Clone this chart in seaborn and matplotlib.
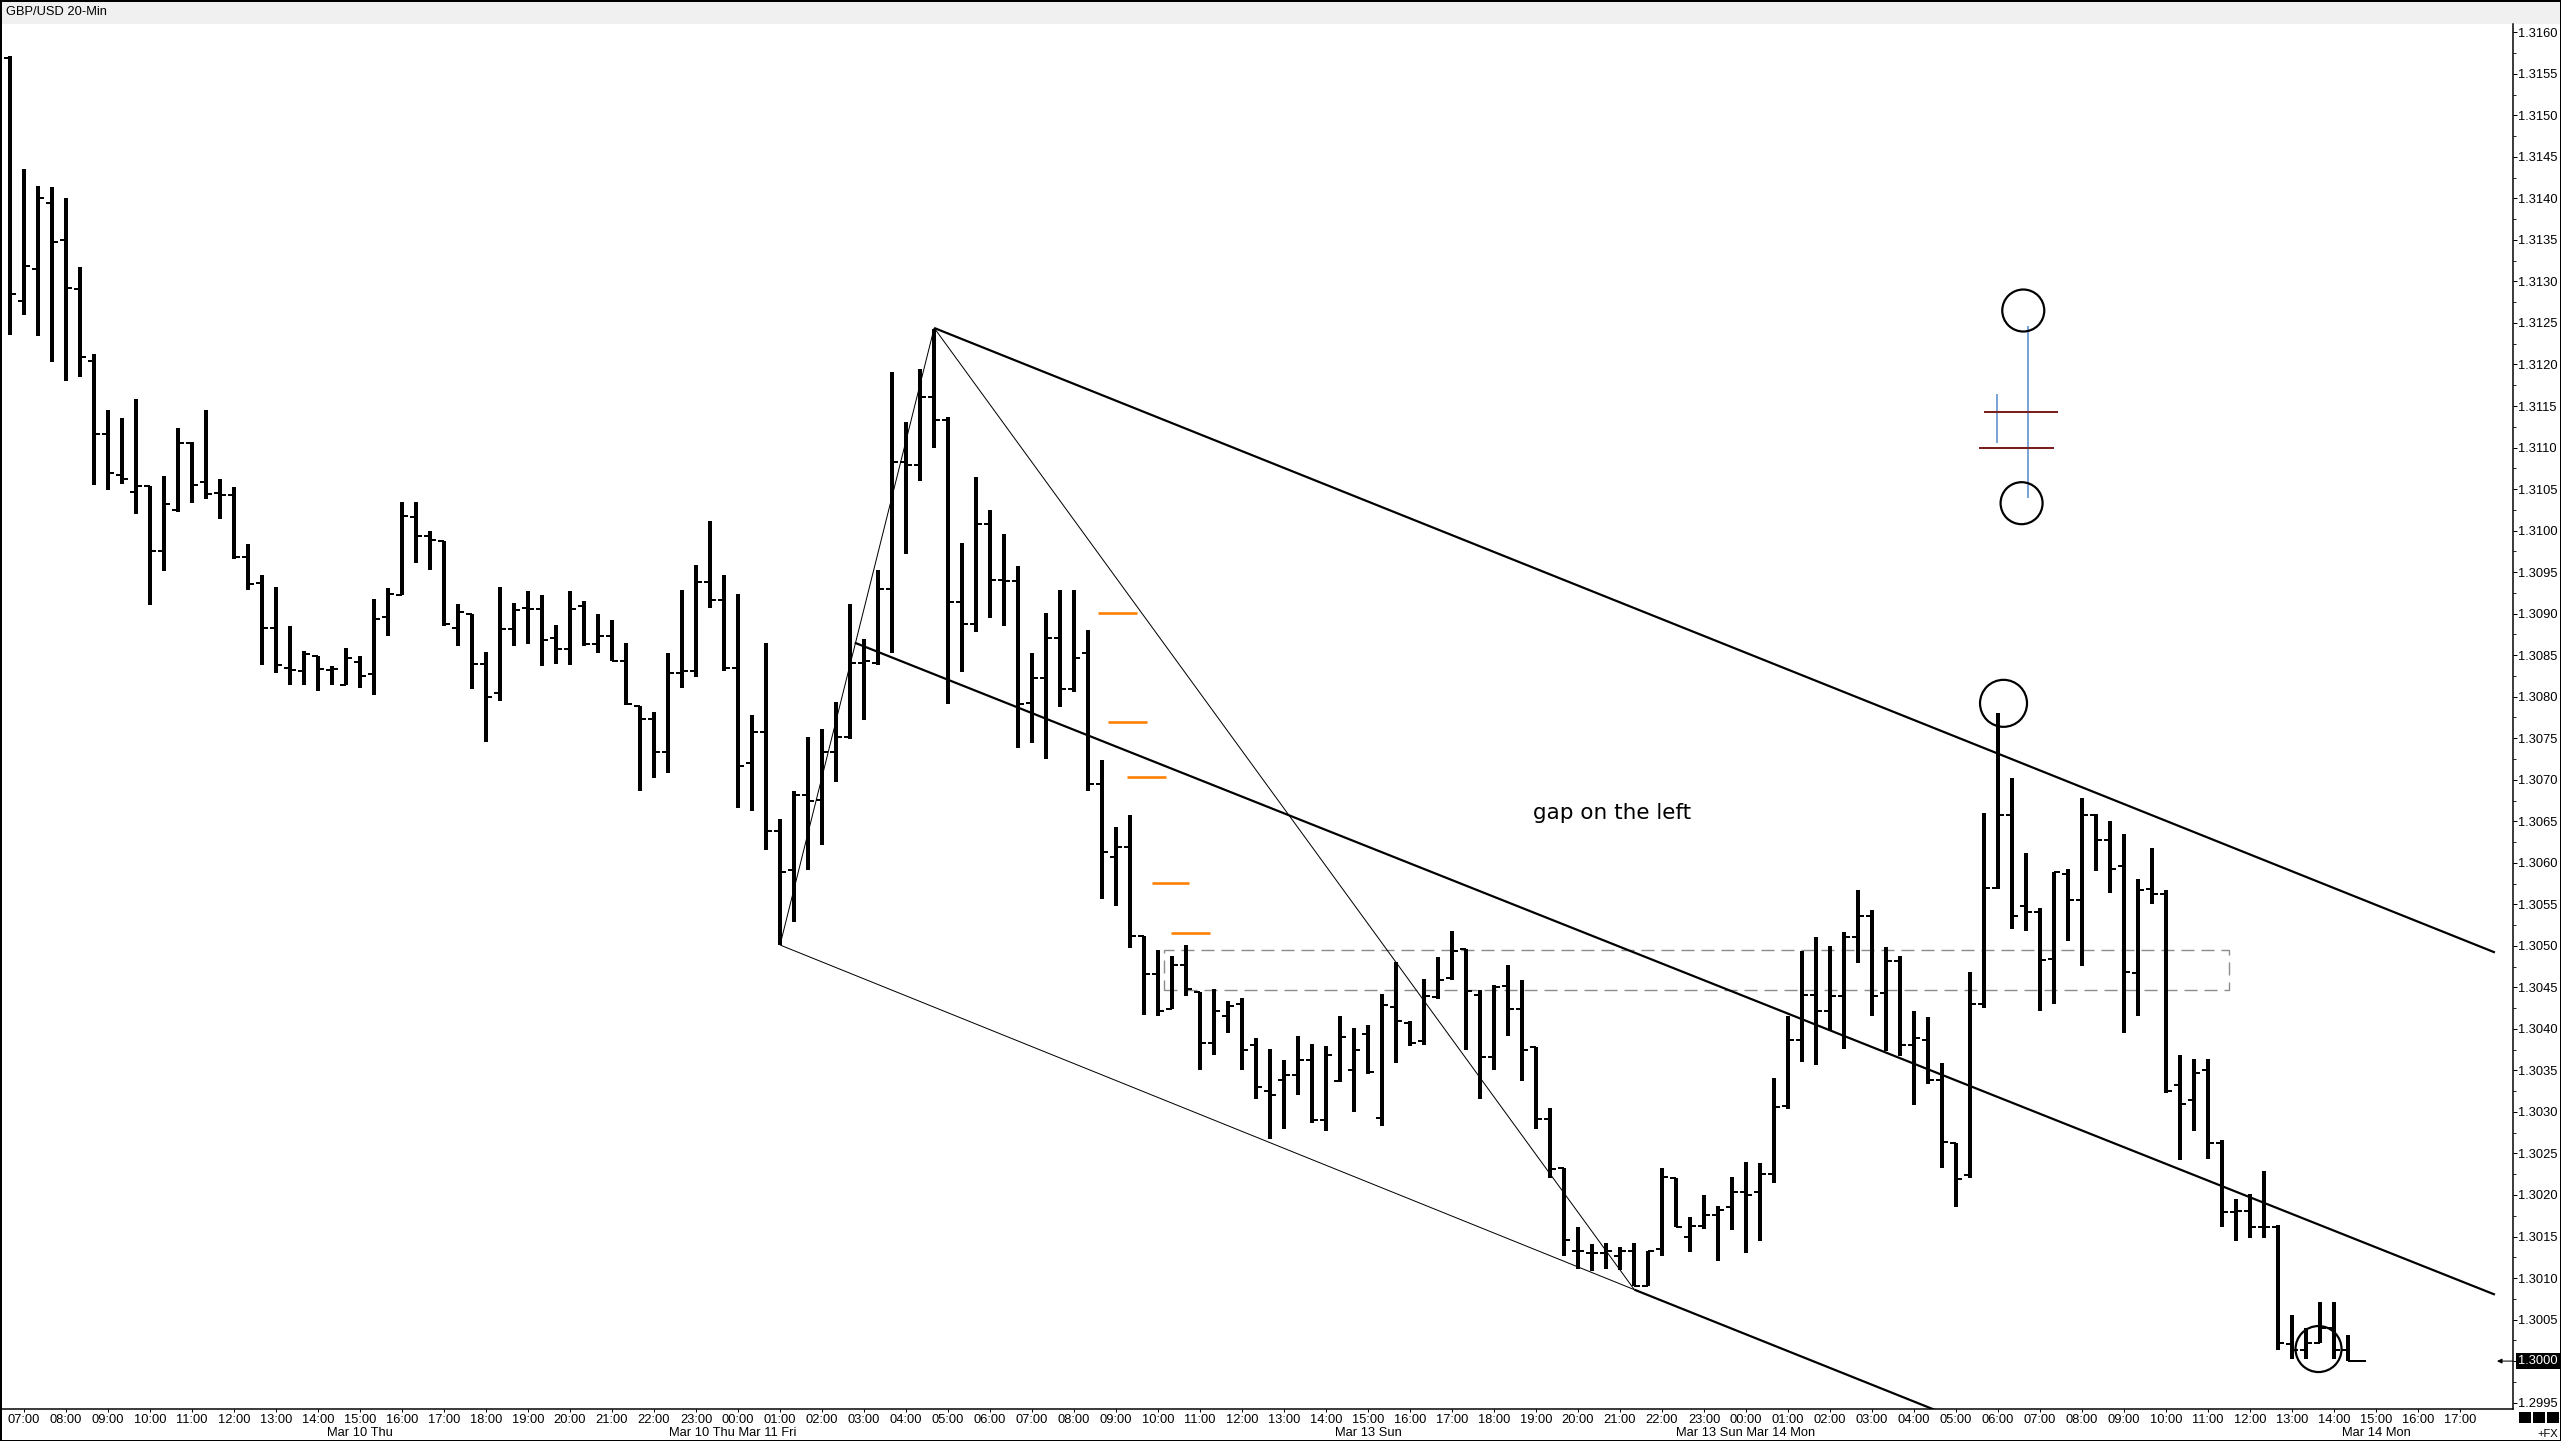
import numpy as np
import matplotlib
matplotlib.use("Agg")
import matplotlib.pyplot as plt
import seaborn as sns
from matplotlib.patches import Rectangle
from matplotlib.transforms import blended_transform_factory

# ---------------- data (prices in pips above 1.3000, 20-min bars from Thu 06:40) -------------
BASE = 1.3000
PIP = 0.0001

opens = [
    156.9, 127.6, 131.5, 139.4, 135.0, 129.1, 120.4, 111.6, 106.7, 104.7,
    105.4, 97.5, 102.5, 110.6, 105.8, 104.5, 104.3, 96.8, 93.7, 88.3,
    83.5, 83.1, 84.9, 83.2, 81.4, 84.2, 82.7, 89.6, 92.3, 101.6,
    99.4, 98.8, 88.3, 90.0, 83.9, 80.4, 88.2, 90.7, 90.5, 87.1,
    85.8, 90.9, 86.3, 87.3, 84.3, 78.9, 77.3, 73.3, 82.8, 83.1,
    93.8, 91.6, 83.5, 72.0, 75.7, 63.8, 59.1, 68.2, 67.6, 73.3,
    75.1, 84.1, 84.1, 93.0, 108.2, 107.9, 116.1, 113.3, 91.4, 88.8,
    100.8, 94.0, 93.9, 79.3, 82.2, 87.1, 80.9, 85.3, 69.5, 60.7,
    61.9, 51.2, 46.6, 42.4, 47.7, 44.5, 38.3, 41.5, 43.0, 38.0,
    32.5, 33.9, 34.4, 36.3, 29.0, 33.7, 35.0, 39.4, 29.3, 42.6,
    40.7, 38.6, 43.8, 46.1, 49.6, 44.1, 36.6, 45.2, 42.4, 37.8,
    29.2, 23.2, 13.2, 13.0, 13.0, 12.6, 13.3, 9.0, 13.5, 22.1,
    15.0, 16.3, 17.6, 18.5, 20.4, 20.3, 22.5, 30.7, 38.7, 44.1,
    42.1, 43.9, 51.1, 53.6, 44.3, 48.2, 38.1, 38.7, 33.8, 26.3,
    22.4, 43.0, 57.0, 65.7, 54.8, 54.1, 48.4, 58.7, 55.5, 65.8,
    62.7, 59.6, 46.7, 56.9, 56.3, 33.3, 31.4, 35.1, 26.3, 17.9,
    18.1, 16.2, 16.2, 2.0, 1.3, 2.2, 4.0, 1.3]

highs = [
    157.1, 143.6, 141.5, 141.4, 140.1, 131.8, 121.3, 114.5, 113.6, 115.9,
    105.4, 106.6, 112.4, 110.7, 114.5, 106.2, 105.2, 98.4, 94.6, 93.2,
    88.5, 85.5, 84.9, 83.7, 85.9, 84.9, 91.8, 93.1, 103.4, 103.4,
    100.0, 98.8, 91.2, 90.0, 85.4, 93.2, 91.3, 92.7, 92.2, 88.6,
    92.7, 91.5, 89.9, 89.2, 86.5, 78.9, 78.1, 85.3, 92.8, 95.8,
    101.2, 94.6, 92.4, 77.8, 86.5, 65.3, 68.7, 75.2, 76.1, 79.4,
    91.2, 86.9, 95.3, 119.1, 113.1, 119.5, 124.3, 113.7, 98.5, 106.4,
    102.5, 99.6, 95.7, 85.3, 90.1, 92.9, 92.9, 88.0, 72.4, 64.3,
    65.8, 51.2, 49.5, 48.8, 50.1, 44.5, 44.8, 43.3, 43.7, 38.9,
    37.6, 36.3, 39.1, 38.2, 37.9, 41.5, 40.1, 40.5, 44.2, 48.0,
    41.0, 46.0, 48.6, 51.8, 49.6, 44.7, 45.3, 47.7, 45.9, 37.8,
    30.5, 23.2, 16.1, 14.1, 14.2, 13.7, 14.2, 13.3, 23.3, 22.1,
    17.4, 20.0, 18.7, 22.2, 24.0, 23.8, 34.1, 41.5, 49.4, 51.1,
    50.0, 51.7, 56.7, 54.3, 49.8, 48.8, 42.1, 41.4, 35.9, 26.3,
    46.9, 66.0, 78.0, 70.2, 61.2, 54.6, 58.9, 59.3, 67.8, 65.9,
    65.0, 63.5, 58.1, 61.8, 56.7, 36.8, 36.4, 36.4, 26.6, 19.5,
    20.1, 22.9, 16.4, 5.6, 4.0, 7.1, 7.1, 3.1]

lows = [
    123.6, 126.0, 123.4, 120.3, 118.0, 118.5, 105.5, 104.9, 105.6, 102.0,
    91.1, 95.1, 102.2, 103.3, 103.8, 101.4, 96.6, 92.9, 83.8, 82.8,
    81.4, 81.4, 80.7, 81.4, 81.4, 81.1, 80.2, 87.3, 92.2, 96.1,
    95.3, 88.5, 86.1, 80.9, 74.6, 79.5, 86.1, 86.3, 83.7, 83.9,
    83.8, 86.1, 85.3, 84.3, 79.0, 68.6, 70.2, 70.8, 81.0, 82.4,
    90.7, 83.1, 66.6, 66.2, 61.5, 50.1, 52.9, 59.1, 62.1, 69.7,
    74.9, 77.2, 83.8, 85.3, 97.2, 106.0, 109.9, 79.1, 83.0, 87.8,
    89.5, 88.5, 73.8, 74.4, 72.5, 78.8, 80.6, 68.6, 55.7, 54.8,
    49.7, 41.7, 41.5, 42.4, 44.0, 35.1, 36.9, 39.5, 35.1, 31.5,
    26.7, 28.0, 32.0, 28.7, 27.7, 33.6, 30.0, 34.6, 28.3, 35.9,
    37.9, 38.0, 43.6, 45.9, 37.5, 31.5, 35.1, 39.1, 33.7, 28.0,
    22.0, 12.7, 11.1, 10.9, 11.1, 11.0, 9.0, 9.0, 12.6, 16.1,
    13.1, 15.9, 12.0, 15.8, 13.0, 14.4, 21.4, 30.4, 36.0, 35.6,
    39.9, 37.6, 47.9, 41.6, 37.3, 36.7, 30.8, 33.4, 23.2, 18.5,
    22.1, 42.5, 56.8, 52.0, 51.8, 42.1, 43.0, 50.6, 47.6, 59.0,
    56.4, 39.5, 41.5, 55.0, 32.3, 24.2, 27.7, 24.3, 16.1, 14.4,
    14.8, 14.8, 1.3, 0.3, 0.3, 2.2, 0.2, 0.0]

closes = [
    128.5, 131.9, 140.1, 134.8, 129.2, 120.9, 111.6, 106.9, 106.2, 105.4,
    97.5, 103.2, 110.6, 105.5, 104.4, 104.3, 96.8, 93.6, 88.3, 83.8,
    83.2, 85.2, 83.3, 83.3, 84.6, 82.5, 89.4, 92.4, 101.8, 99.4,
    98.9, 88.8, 90.2, 83.9, 80.0, 88.1, 90.4, 90.5, 86.8, 85.8,
    90.5, 86.3, 87.3, 84.3, 79.1, 77.3, 73.3, 82.8, 83.1, 93.8,
    91.6, 83.5, 71.6, 75.7, 63.8, 58.9, 68.2, 67.5, 73.3, 75.1,
    84.1, 84.3, 93.0, 108.2, 107.9, 116.1, 113.3, 91.4, 88.8, 100.8,
    94.0, 93.9, 79.1, 82.2, 87.1, 80.9, 84.6, 69.5, 61.3, 61.9,
    51.2, 46.6, 42.2, 47.7, 44.8, 38.3, 42.2, 42.8, 37.5, 33.0,
    32.0, 34.4, 36.2, 29.0, 36.8, 39.0, 37.4, 34.8, 42.9, 40.9,
    38.3, 43.9, 45.9, 49.4, 44.6, 36.6, 45.1, 42.4, 37.4, 29.1,
    23.1, 14.6, 13.2, 13.0, 13.3, 13.3, 9.0, 13.3, 22.2, 16.2,
    16.3, 17.6, 18.2, 20.3, 20.0, 22.5, 30.6, 38.7, 44.1, 42.1,
    43.9, 51.1, 53.6, 43.9, 48.2, 38.1, 38.9, 33.8, 26.4, 21.9,
    43.0, 57.0, 65.7, 53.6, 54.1, 48.3, 58.9, 55.5, 65.8, 62.7,
    59.2, 46.9, 56.7, 56.3, 32.5, 30.9, 34.7, 26.3, 17.9, 18.1,
    16.2, 16.2, 2.2, 1.3, 2.2, 4.0, 1.3, 0.0]

hour_labels = [
    "07:00", "08:00", "09:00", "10:00", "11:00", "12:00", "13:00", "14:00", "15:00",
    "16:00", "17:00", "18:00", "19:00", "20:00", "21:00", "22:00", "23:00",
    "00:00", "01:00", "02:00", "03:00", "04:00", "05:00", "06:00", "07:00", "08:00",
    "09:00", "10:00", "11:00", "12:00", "13:00", "14:00", "15:00", "16:00", "17:00",
    "18:00", "19:00", "20:00", "21:00", "22:00", "23:00",
    "00:00", "01:00", "02:00", "03:00", "04:00", "05:00", "06:00", "07:00", "08:00",
    "09:00", "10:00", "11:00", "12:00", "13:00", "14:00", "15:00", "16:00", "17:00"]
date_labels = ["Mar 10 Thu", "Mar 10 Thu Mar 11 Fri", "Mar 13 Sun",
               "Mar 13 Sun Mar 14 Mon", "Mar 14 Mon"]
date_hours = [8.0, 16.87, 32.0, 40.98, 56.0]

# drawn objects (hours from Thu 07:00, pips above 1.3000)
upper_line = ([21.67, 58.83], [124.4, 49.2])
middle_line = ([19.78, 58.83], [86.5, 8.0])
lower_thin = ([18.0, 38.34], [50.1, 8.6])
lower_thick = ([38.34, 46.0], [8.6, -6.9])
leg_up = ([18.0, 21.67], [50.1, 124.4])
leg_down = ([21.67, 38.34], [124.4, 8.6])
orange_start = [25.58, 25.80, 26.25, 26.85, 27.32]
orange_end = [26.49, 26.73, 27.18, 27.73, 28.23]
orange_level = [90.1, 76.9, 70.3, 57.6, 51.5]
zone_hours = [27.15, 52.49]
zone_levels = [44.7, 49.5]
circle_hours = [47.6, 47.56, 47.13, 54.63]
circle_levels = [126.5, 103.3, 79.2, 1.45]
circle_radius_px = [21, 21, 23.5, 23]
blue_hours = [47.72, 46.98]
blue_from = [124.6, 116.5]
blue_to = [103.9, 110.6]
red_start = [46.67, 46.55]
red_end = [48.42, 48.34]
red_level = [114.3, 110.0]

# ---------------- figure ----------------
W, H = 2561, 1441
PX = 0.72  # points per pixel at 100 dpi

sns.set_theme(style="white")
plt.rcParams['font.family'] = ['Liberation Sans', 'DejaVu Sans']
plt.rcParams['lines.scale_dashes'] = False
plt.rcParams['text.color'] = 'black'


def price(a):
    return BASE + np.asarray(a, dtype=float) * PIP


fig = plt.figure(figsize=(W / 100, H / 100), dpi=100, facecolor='white')
ax = fig.add_axes([1 / W, (H - 1409) / H, 2512 / W, (1409 - 24) / H])
ax.set_facecolor('white')

t_bar = (np.arange(len(opens)) - 1) / 3.0
tick_len = 6 / 42.0

ax.vlines(t_bar, price(lows), price(highs), colors='black', linewidth=4 * PX, zorder=3)
ax.hlines(price(opens), t_bar - tick_len, t_bar, colors='black', linewidth=2 * PX, zorder=3)
ax.hlines(price(closes[:-1]), t_bar[:-1], t_bar[:-1] + tick_len, colors='black',
          linewidth=2 * PX, zorder=3)
ax.hlines(price(closes[-1:]), t_bar[-1:], t_bar[-1:] + 0.43, colors='black',
          linewidth=2 * PX, zorder=3)

# channel and legs
for (xs, ys), lw in [(upper_line, 2.2), (middle_line, 2.2), (lower_thick, 2.2),
                     (lower_thin, 1.0), (leg_up, 1.0), (leg_down, 1.0)]:
    ax.plot(xs, price(ys), color='black', linewidth=lw * PX, zorder=4,
            solid_capstyle='butt')

# orange levels
ax.hlines(price(orange_level), orange_start, orange_end, colors='#FF7F00',
          linewidth=2.6 * PX, zorder=4)

# dashed zone
ax.add_patch(Rectangle((zone_hours[0], price(zone_levels[0])),
                       zone_hours[1] - zone_hours[0],
                       (zone_levels[1] - zone_levels[0]) * PIP,
                       fill=False, edgecolor='#8c8c8c', linewidth=1.4 * PX,
                       linestyle=(0, (9.4, 5.0)), zorder=2))

# blue and dark red marks
ax.vlines(blue_hours, price(blue_from), price(blue_to), colors='#5B8FD0',
          linewidth=1.6 * PX, zorder=4)
ax.hlines(price(red_level), red_start, red_end, colors='#7A1F1F',
          linewidth=2.0 * PX, zorder=5)

# circles
sizes = [(2 * r * PX) ** 2 for r in circle_radius_px]
ax.scatter(circle_hours, price(circle_levels), s=sizes, facecolors='none',
           edgecolors='black', linewidths=2.2 * PX, zorder=6)

ax.text(37.8, price(66.0), "gap on the left", fontsize=15.5, ha='center', va='center',
        color='black', family=['DejaVu Sans'], zorder=6)

# axes limits and ticks
ax.set_xlim(-0.548, 59.26)
ax.set_ylim(price(-5.77), price(161.0))

ax.set_xticks(np.arange(len(hour_labels)))
ax.set_xticklabels(hour_labels)
ax.tick_params(axis='x', which='both', bottom=True, top=False, length=3 * PX,
               width=1 * PX, pad=1.5, labelsize=9.3, colors='black')

yt = np.round(np.arange(1.2995, 1.31601, 0.0005), 4)
ax.set_yticks(yt)
ax.set_yticklabels([f"{v:.4f}" for v in yt])
ax.set_yticks(np.round(yt[:-1] + 0.00025, 5), minor=True)
ax.yaxis.tick_right()
ax.tick_params(axis='y', which='major', right=True, left=False, labelright=True,
               labelleft=False, length=4 * PX, width=1 * PX, pad=1, labelsize=9.3,
               colors='black')
ax.tick_params(axis='y', which='minor', right=True, left=False, length=3 * PX,
               width=1 * PX)

for side in ['top', 'left']:
    ax.spines[side].set_visible(False)
for side in ['right', 'bottom']:
    ax.spines[side].set_color('black')
    ax.spines[side].set_linewidth(1.5 * PX)
ax.grid(False)

# date row
date_tr = blended_transform_factory(ax.transData, fig.transFigure)
for lab, hx in zip(date_labels, date_hours):
    ax.text(hx, (H - 1433) / H, lab, transform=date_tr, ha='center', va='center',
            fontsize=9.3, color='black', clip_on=False)

# last price marker
price_tr = blended_transform_factory(fig.transFigure, ax.transData)
last = price(closes[-1])
fig.add_artist(Rectangle((2516 / W, last - 8 / 8.305 * PIP), 45 / W, 16 / 8.305 * PIP,
                         transform=price_tr, facecolor='black', edgecolor='none',
                         zorder=5))
fig.text(2518 / W, last, f"{last:.4f}", transform=price_tr, color='white',
         fontsize=9.3, ha='left', va='center', zorder=6)
ax.annotate("", xy=(1 - 16 / 2512, last), xytext=(1.0, last),
            xycoords=('axes fraction', 'data'), textcoords=('axes fraction', 'data'),
            arrowprops=dict(arrowstyle='-|>', color='black', lw=1.0 * PX,
                            mutation_scale=7, shrinkA=0, shrinkB=0),
            annotation_clip=False)

# title bar
fig.add_artist(Rectangle((0, (H - 24) / H), 1, 24 / H, transform=fig.transFigure,
                         facecolor='#F0F0F0', edgecolor='none', zorder=0))
fig.text(6 / W, (H - 12) / H, "GBP/USD 20-Min", fontsize=9.3, ha='left',
         va='center', color='black')

# bottom right corner widgets
for x0 in [2519, 2533, 2547]:
    fig.add_artist(Rectangle((x0 / W, (H - 1423) / H), 12 / W, 11 / H,
                             transform=fig.transFigure, facecolor='black',
                             edgecolor='none', zorder=5))
fig.text(2558 / W, (H - 1434) / H, "+FX", fontsize=8, ha='right', va='center',
         color='black')

# outer frame
fig.add_artist(Rectangle((0, 0), 1, 1, transform=fig.transFigure, fill=False,
                         edgecolor='black', linewidth=3 * PX, zorder=10))

fig.savefig("out.png", dpi=100, facecolor='white')
